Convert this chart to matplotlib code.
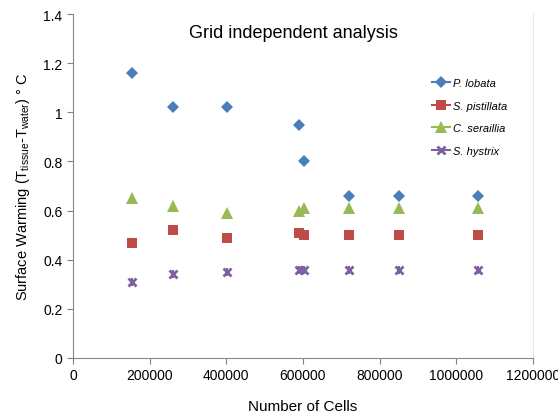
import matplotlib
matplotlib.use("Agg")
import matplotlib.pyplot as plt
from matplotlib.lines import Line2D

plt.rcParams['font.family'] = ['Liberation Sans', 'DejaVu Sans']

cells = [155000, 260000, 403000, 590000, 602000, 720000, 850000, 1056000]
p_lobata = [1.16, 1.02, 1.02, 0.95, 0.80, 0.66, 0.66, 0.66]
s_pistillata = [0.47, 0.52, 0.49, 0.51, 0.50, 0.50, 0.50, 0.50]
c_seraillia = [0.65, 0.62, 0.59, 0.60, 0.61, 0.61, 0.61, 0.61]
s_hystrix = [0.31, 0.34, 0.35, 0.36, 0.36, 0.36, 0.36, 0.36]

series = [
    ("P. lobata", p_lobata, "#4A7EBB", "D", 6),
    ("S. pistillata", s_pistillata, "#BE4B48", "s", 7),
    ("C. seraillia", c_seraillia, "#98B954", "^", 8),
    ("S. hystrix", s_hystrix, "#7D60A0", "x", 6),
]

fig = plt.figure(figsize=(5.58, 4.14), dpi=100)
ax = fig.add_axes([73/558, 1 - 359/414, 460/558, 344/414])

handles = []
for name, vals, col, mk, ms in series:
    if mk == "x":
        ax.plot(cells, vals, linestyle="none", marker="x", color=col, markersize=ms, markeredgewidth=2)
        ax.plot(cells, vals, linestyle="none", marker="|", color=col, markersize=ms, markeredgewidth=1.5)
        h = Line2D([], [], color=col, marker="x", markersize=ms, markeredgewidth=2, lw=1.5)
    else:
        ax.plot(cells, vals, linestyle="none", marker=mk, color=col, markersize=ms, markeredgewidth=0)
        h = Line2D([], [], color=col, marker=mk, markersize=ms, markeredgewidth=0, lw=1.5)
    handles.append(h)

ax.set_xlim(0, 1200000)
ax.set_ylim(0, 1.4)
ax.set_xticks([0, 200000, 400000, 600000, 800000, 1000000, 1200000])
ax.set_xticklabels(["0", "200000", "400000", "600000", "800000", "1000000", "1200000"])
ax.set_yticks([0, 0.2, 0.4, 0.6, 0.8, 1.0, 1.2, 1.4])
ax.set_yticklabels(["0", "0.2", "0.4", "0.6", "0.8", "1", "1.2", "1.4"])
ax.tick_params(axis='both', labelsize=10, colors="#808080", labelcolor="black", length=4, direction="out")

for s in ["left", "bottom"]:
    ax.spines[s].set_color("#868686")
ax.spines["right"].set_color("#E6E6E6")
ax.spines["right"].set_linewidth(0.8)
ax.spines["top"].set_visible(False)

ax.set_xlabel("Number of Cells", fontsize=11, labelpad=12)
ax.set_ylabel("Surface Warming (T$_{\\mathregular{tissue}}$-T$_{\\mathregular{water}}$) ° C", fontsize=10.5, labelpad=8)

ax.text(0.48, 0.945, "Grid independent analysis", transform=ax.transAxes, ha="center", va="center", fontsize=13)

leg = ax.legend(handles, [s[0] for s in series], loc="upper left",
                bbox_to_anchor=((424 - 73) / 460, 1 - (71 - 15) / 344),
                frameon=False, handlelength=1.6, handletextpad=0.35, labelspacing=1.15,
                borderpad=0.2, prop={'style': 'italic', 'size': 8})

fig.savefig("out.png", dpi=100)
